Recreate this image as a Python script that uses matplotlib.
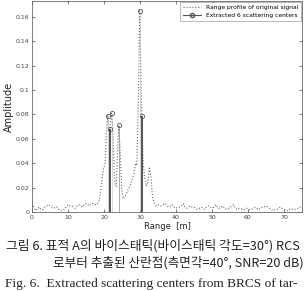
import matplotlib
matplotlib.use('Agg')
import matplotlib.pyplot as plt

# range profile of the original signal
range_m = [0, 0.5, 1, 1.5, 2, 2.5, 3, 3.5, 4, 4.5, 5, 5.5, 6, 6.5, 7, 7.5, 8, 8.5, 9, 9.5,
           10, 10.5, 11, 11.5, 12, 12.5, 13, 13.5, 14, 14.5, 15, 15.5, 16, 16.5, 17, 17.5, 18, 18.6,
           19.2, 19.8, 20.3, 20.7, 21.0, 21.3, 21.6, 21.8, 22.1, 22.4, 22.8, 23.1, 23.4, 23.8, 24.1,
           24.5, 24.9, 25.3, 25.8, 26.5, 27.3, 28.2, 28.8, 29.1, 29.4, 29.6, 29.9, 30.1, 30.3, 30.5,
           30.9, 31.3, 31.8, 32.2, 32.6, 33.0, 33.5, 34, 34.5, 35, 35.5, 36, 36.5, 37, 37.5, 38, 38.5,
           39, 39.5, 40, 40.5, 41, 41.5, 42, 42.5, 43, 43.5, 44, 44.5, 45, 45.5, 46, 46.5, 47, 47.5,
           48, 48.5, 49, 49.5, 50, 50.5, 51, 51.5, 52, 52.5, 53, 53.5, 54, 54.5, 55, 55.5, 56, 56.5,
           57, 57.5, 58, 58.5, 59, 59.5, 60, 60.5, 61, 61.5, 62, 62.5, 63, 63.5, 64, 64.5, 65, 65.5,
           66, 66.5, 67, 67.5, 68, 68.5, 69, 69.5, 70, 70.5, 71, 71.5, 72, 72.5, 73, 73.5, 74, 74.5, 75]
amplitude = [0.007, 0.004, 0.001, 0.003, 0.004, 0.002, 0.002, 0.004, 0.005, 0.006, 0.005, 0.004, 0.003, 0.004, 0.004, 0.002, 0.001, 0.002, 0.002, 0.004,
             0.006, 0.005, 0.005, 0.004, 0.003, 0.005, 0.006, 0.005, 0.004, 0.006, 0.007, 0.006, 0.005, 0.007, 0.007, 0.006, 0.006, 0.009,
             0.020, 0.035, 0.040, 0.065, 0.079, 0.066, 0.068, 0.072, 0.081, 0.070, 0.035, 0.022, 0.021, 0.050, 0.071,
             0.050, 0.020, 0.011, 0.012, 0.017, 0.022, 0.030, 0.040, 0.038, 0.070, 0.100, 0.165, 0.140, 0.100, 0.079,
             0.040, 0.028, 0.021, 0.025, 0.037, 0.030, 0.012, 0.007, 0.005, 0.006, 0.005, 0.005, 0.006, 0.007, 0.005, 0.004, 0.005,
             0.006, 0.004, 0.003, 0.004, 0.004, 0.005, 0.007, 0.004, 0.003, 0.004, 0.005, 0.004, 0.004, 0.003, 0.002, 0.003, 0.004, 0.003,
             0.002, 0.004, 0.005, 0.004, 0.003, 0.004, 0.006, 0.004, 0.003, 0.004, 0.005, 0.003, 0.002, 0.003, 0.004, 0.005, 0.006, 0.003,
             0.002, 0.003, 0.003, 0.002, 0.002, 0.003, 0.003, 0.002, 0.002, 0.003, 0.004, 0.003, 0.002, 0.003, 0.004, 0.004, 0.005, 0.004,
             0.003, 0.002, 0.001, 0.002, 0.002, 0.003, 0.004, 0.003, 0.002, 0.002, 0.001, 0.002, 0.003, 0.002, 0.002, 0.003, 0.003, 0.004, 0.004]

# extracted scattering centers
center_range = [21.0, 21.6, 22.1, 24.1, 29.9, 30.5]
center_amp = [0.079, 0.068, 0.081, 0.071, 0.165, 0.079]

xticks = [0, 10, 20, 30, 40, 50, 60, 70]
yticks = [0, 0.02, 0.04, 0.06, 0.08, 0.1, 0.12, 0.14, 0.16]
ytick_labels = ['0', '0.02', '0.04', '0.06', '0.08', '0.1', '0.12', '0.14', '0.16']

fig = plt.figure(figsize=(3.05, 2.91), dpi=100)
ax = fig.add_axes([0.105, 0.2715, 0.885, 0.725])

ax.plot(range_m, amplitude, linestyle=':', color='#6a6a6a', linewidth=0.8,
        label='Range profile of original signal')
# stems: the scanned figure shows some stems dark, others faint
stem_colors = ['#c8c8c8', '#333333', '#c8c8c8', '#9a9a9a', '#c8c8c8', '#555555']
stem_widths = [0.5, 1.2, 0.5, 0.6, 0.5, 1.4]
ax.vlines(center_range, 0, center_amp, colors=stem_colors, linewidths=stem_widths)
ax.plot([], [], color='#555555', linewidth=0.8, marker='o', markersize=3,
        markerfacecolor='none', markeredgecolor='#555555',
        label='Extracted 6 scattering centers')
ax.plot(center_range, center_amp, linestyle='none', marker='o', markersize=3,
        markerfacecolor='none', markeredgecolor='#555555', markeredgewidth=0.6)

ax.set_xlim(0, 75)
ax.set_ylim(0, 0.173)
ax.set_xticks(xticks)
ax.set_yticks(yticks)
ax.set_yticklabels(ytick_labels)
ax.tick_params(direction='in', length=2, width=0.5, labelsize=4.5, colors='#444444',
               top=True, right=True, pad=2)
for s in ax.spines.values():
    s.set_linewidth(0.6)
    s.set_color('#666666')

ax.set_xlabel('Range  [m]', fontsize=6, labelpad=1.5, color='#222222')
ax.set_ylabel('Amplitude', fontsize=7, labelpad=1, color='#222222')

leg = ax.legend(loc='upper right', fontsize=4.3, frameon=True, fancybox=False,
                borderpad=0.5, handlelength=3, labelspacing=0.5,
                edgecolor='#888888', borderaxespad=0.1)
leg.get_frame().set_linewidth(0.5)

kfont = ['Noto Sans CJK KR', 'DejaVu Sans']
fig.text(0.02, 1 - 246 / 291, '그림 6. 표적 A의 바이스태틱(바이스태틱 각도=30°) RCS',
         fontsize=9.2, family=kfont, va='center', ha='left', color='#222222')
fig.text(0.175, 1 - 263 / 291, '로부터 추출된 산란점(측면각=40°, SNR=20 dB)',
         fontsize=9.1, family=kfont, va='center', ha='left', color='#222222')
fig.text(0.015, 1 - 290 / 291, 'Fig. 6.  Extracted scattering centers from BRCS of tar-',
         fontsize=9.6, family=['Liberation Serif', 'DejaVu Serif'], va='bottom', ha='left',
         color='#222222')

fig.savefig('out.png', dpi=100)
